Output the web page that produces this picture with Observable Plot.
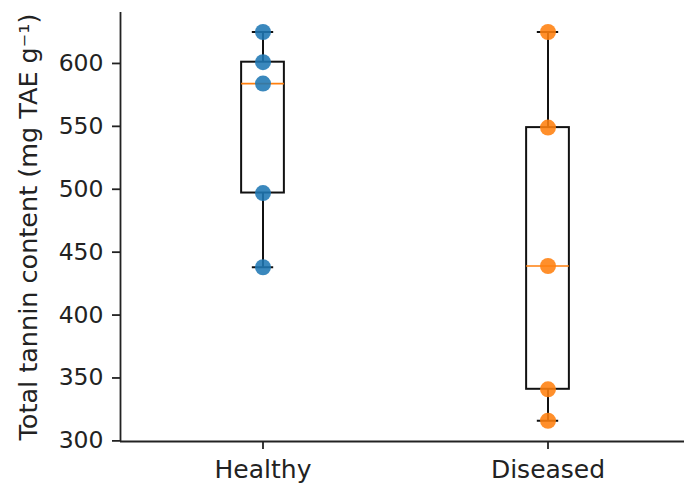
<!DOCTYPE html>
<html>
<head>
<meta charset="utf-8">
<script src="https://cdn.jsdelivr.net/npm/d3@7"></script>
<script src="https://cdn.jsdelivr.net/npm/@observablehq/plot@0.6"></script>
<style>
  html, body { margin: 0; padding: 0; background: #fff; }
  #chart { width: 684px; height: 484px; }
  svg { font-family: "DejaVu Sans", sans-serif; }
</style>
</head>
<body>
<div id="chart"></div>
<script>
const groups = ["Healthy", "Diseased"];
const healthyValues = [625, 601, 584, 497, 438];
const diseasedValues = [625, 549, 439, 341, 316];
const groupColors = ["#1f77b4", "#ff7f0e"];
const yTicks = [300, 350, 400, 450, 500, 550, 600];
const yLabel = "Total tannin content (mg TAE g\u207B\u00B9)";

const series = [healthyValues, diseasedValues];
const points = [];
const stats = [];
series.forEach((vals, i) => {
  const pos = i + 1;
  const sorted = [...vals].sort((a, b) => a - b);
  const q1 = d3.quantile(sorted, 0.25);
  const q3 = d3.quantile(sorted, 0.75);
  const med = d3.quantile(sorted, 0.5);
  const iqr = q3 - q1;
  const lo = d3.min(sorted.filter(v => v >= q1 - 1.5 * iqr));
  const hi = d3.max(sorted.filter(v => v <= q3 + 1.5 * iqr));
  stats.push({pos, q1, q3, med, lo, hi});
  vals.forEach(v => points.push({pos, v, color: groupColors[i]}));
});

const bw = 0.15;
const fs = 23.5;
const chart = Plot.plot({
  width: 684,
  height: 484,
  marginLeft: 120,
  marginRight: 0,
  marginTop: 12,
  marginBottom: 43,
  style: {fontSize: fs + "px", fontFamily: "DejaVu Sans, sans-serif", color: "#222"},
  x: {type: "linear", domain: [0.5, 2.5], range: [120, 690], axis: null},
  y: {domain: [299.5, 640.5], axis: null},
  marks: [
    // y axis
    Plot.ruleX([0.5], {y1: 299.5, y2: 640.5, stroke: "#222", strokeWidth: 1.8}),
    Plot.axisY(yTicks, {anchor: "left", tickSize: 8, tickPadding: 9, fontSize: fs, label: null, stroke: "#222", strokeWidth: 1.8, fill: "#222"}),
    Plot.text([yLabel], {frameAnchor: "left", dx: -92, rotate: -90, fontSize: 25.5, fill: "#222", textAnchor: "middle"}),
    // x axis
    Plot.ruleY([299.5], {stroke: "#222", strokeWidth: 1.8}),
    Plot.axisX([1, 2], {anchor: "bottom", tickSize: 8, tickPadding: 11, fontSize: 25, label: null, tickFormat: d => groups[d - 1], stroke: "#222", strokeWidth: 1.8, fill: "#222"}),
    // boxes
    Plot.rect(stats, {x1: d => d.pos - bw / 2, x2: d => d.pos + bw / 2, y1: "q1", y2: "q3", fill: "none", stroke: "#111", strokeWidth: 2}),
    Plot.ruleX(stats, {x: "pos", y1: "q3", y2: "hi", stroke: "#111", strokeWidth: 2}),
    Plot.ruleX(stats, {x: "pos", y1: "lo", y2: "q1", stroke: "#111", strokeWidth: 2}),
    Plot.ruleY(stats, {y: "hi", x1: d => d.pos - bw / 4, x2: d => d.pos + bw / 4, stroke: "#111", strokeWidth: 2}),
    Plot.ruleY(stats, {y: "lo", x1: d => d.pos - bw / 4, x2: d => d.pos + bw / 4, stroke: "#111", strokeWidth: 2}),
    Plot.ruleY(stats, {y: "med", x1: d => d.pos - bw / 2, x2: d => d.pos + bw / 2, stroke: "#ff7f0e", strokeWidth: 1.6}),
    // points
    Plot.dot(points, {x: "pos", y: "v", r: 8, fill: "color", fillOpacity: 0.88, stroke: "none"})
  ]
});
document.getElementById("chart").appendChild(chart);
</script>
</body>
</html>
